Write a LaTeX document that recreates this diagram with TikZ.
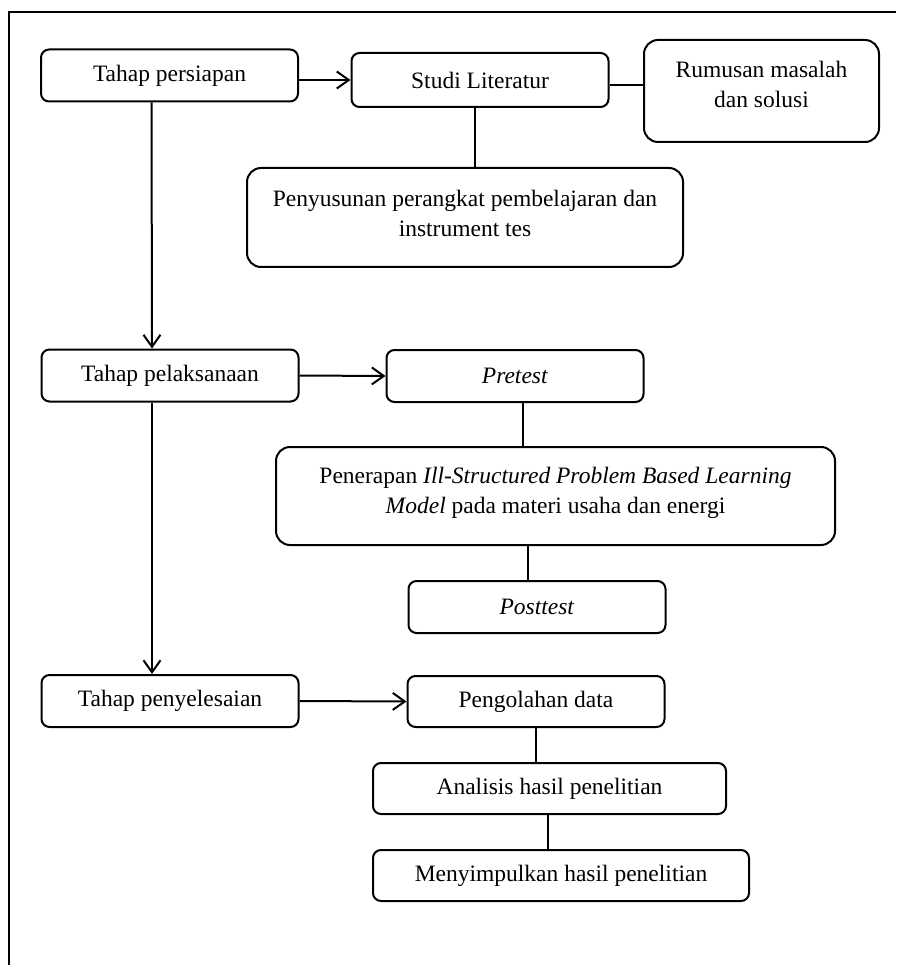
\documentclass[tikz,border=0pt]{standalone}
\usepackage{fontspec}
\setmainfont{Liberation Serif}
\usepackage{tikz}
\usetikzlibrary{arrows.meta,calc}
\tikzset{
  box/.style={rectangle,rounded corners=8pt,draw=black,line width=2pt,
    minimum width=257pt,minimum height=52pt,align=center,inner sep=0pt,
    font=\fontsize{23.5}{30}\selectfont},
  bigbox/.style={box,rounded corners=14pt},
  % connectors: arrows between stages, plain lines inside a stage
  arr/.style={-{Straight Barb[length=12pt,width=17pt]},line width=2pt},
  link/.style={line width=2pt},
  frame/.style={line width=2.5pt}
}

\begin{document}
\begin{tikzpicture}[x=1pt,y=-1pt]
  \useasboundingbox (0,0) rectangle (896,965);
  \draw[frame] (9,965) -- (9,12) -- (896,12);
  \node[box] (persiapan) at (169.5,75.5) {Tahap persiapan};
  \node[box,minimum height=54pt] (studi) at (480,80) {Studi Literatur};
  \node[bigbox,minimum width=235pt,minimum height=102pt] (rumusan) at (761.5,91)
    {Rumusan masalah\\dan solusi\\[-16pt]};
  \node[bigbox,minimum width=436pt,minimum height=99pt] (penyusunan) at (465,217.5)
    {Penyusunan perangkat pembelajaran dan\\instrument tes\\[-21pt]};
  \node[box] (pelaksanaan) at (170,375.5) {Tahap pelaksanaan};
  \node[box] (pretest) at (515,376) {\textit{Pretest}};
  \node[bigbox,minimum width=559pt,minimum height=98pt] (penerapan) at (555.5,496)
    {Penerapan \textit{Ill-Structured Problem Based Learning}\\
     \textit{Model} pada materi usaha dan energi\\[-18pt]};
  \node[box] (posttest) at (537,607) {\textit{Posttest}};
  \node[box] (penyelesaian) at (170,701) {Tahap penyelesaian};
  \node[box,minimum height=51pt] (pengolahan) at (536,701.5) {Pengolahan data};
  \node[box,minimum width=353pt,minimum height=51pt] (analisis) at (549.5,788.5)
    {Analisis hasil penelitian};
  \node[box,minimum width=376pt,minimum height=51pt] (menyimpulkan) at (561,875.5)
    {Menyimpulkan hasil penelitian};
  \draw[arr] (persiapan.east |- studi.west) -- (studi.west);
  \draw[link] ([yshift=-5pt]studi.east) -- ([yshift=-5pt]studi.east -| rumusan.west);
  \draw[link] ([xshift=-5pt]studi.south) -- ([xshift=-5pt]studi.south |- penyusunan.north);
  \draw[arr] ([xshift=-18pt]persiapan.south) -- ([xshift=-18pt]pelaksanaan.north);
  \draw[arr] (pelaksanaan.east) -- (pretest.west);
  \draw[link] ([xshift=8pt]pretest.south) -- ([xshift=8pt]pretest.south |- penerapan.north);
  \draw[link] ([xshift=-9pt]posttest.north) -- ([xshift=-9pt]posttest.north |- penerapan.south);
  \draw[arr] ([xshift=-18pt]pelaksanaan.south) -- ([xshift=-18pt]penyelesaian.north);
  \draw[arr] (penyelesaian.east) -- (pengolahan.west);
  \draw[link] (pengolahan.south) -- (pengolahan.south |- analisis.north);
  \draw[link] ([xshift=-2pt]analisis.south) -- ([xshift=-2pt]analisis.south |- menyimpulkan.north);
\end{tikzpicture}
\end{document}
